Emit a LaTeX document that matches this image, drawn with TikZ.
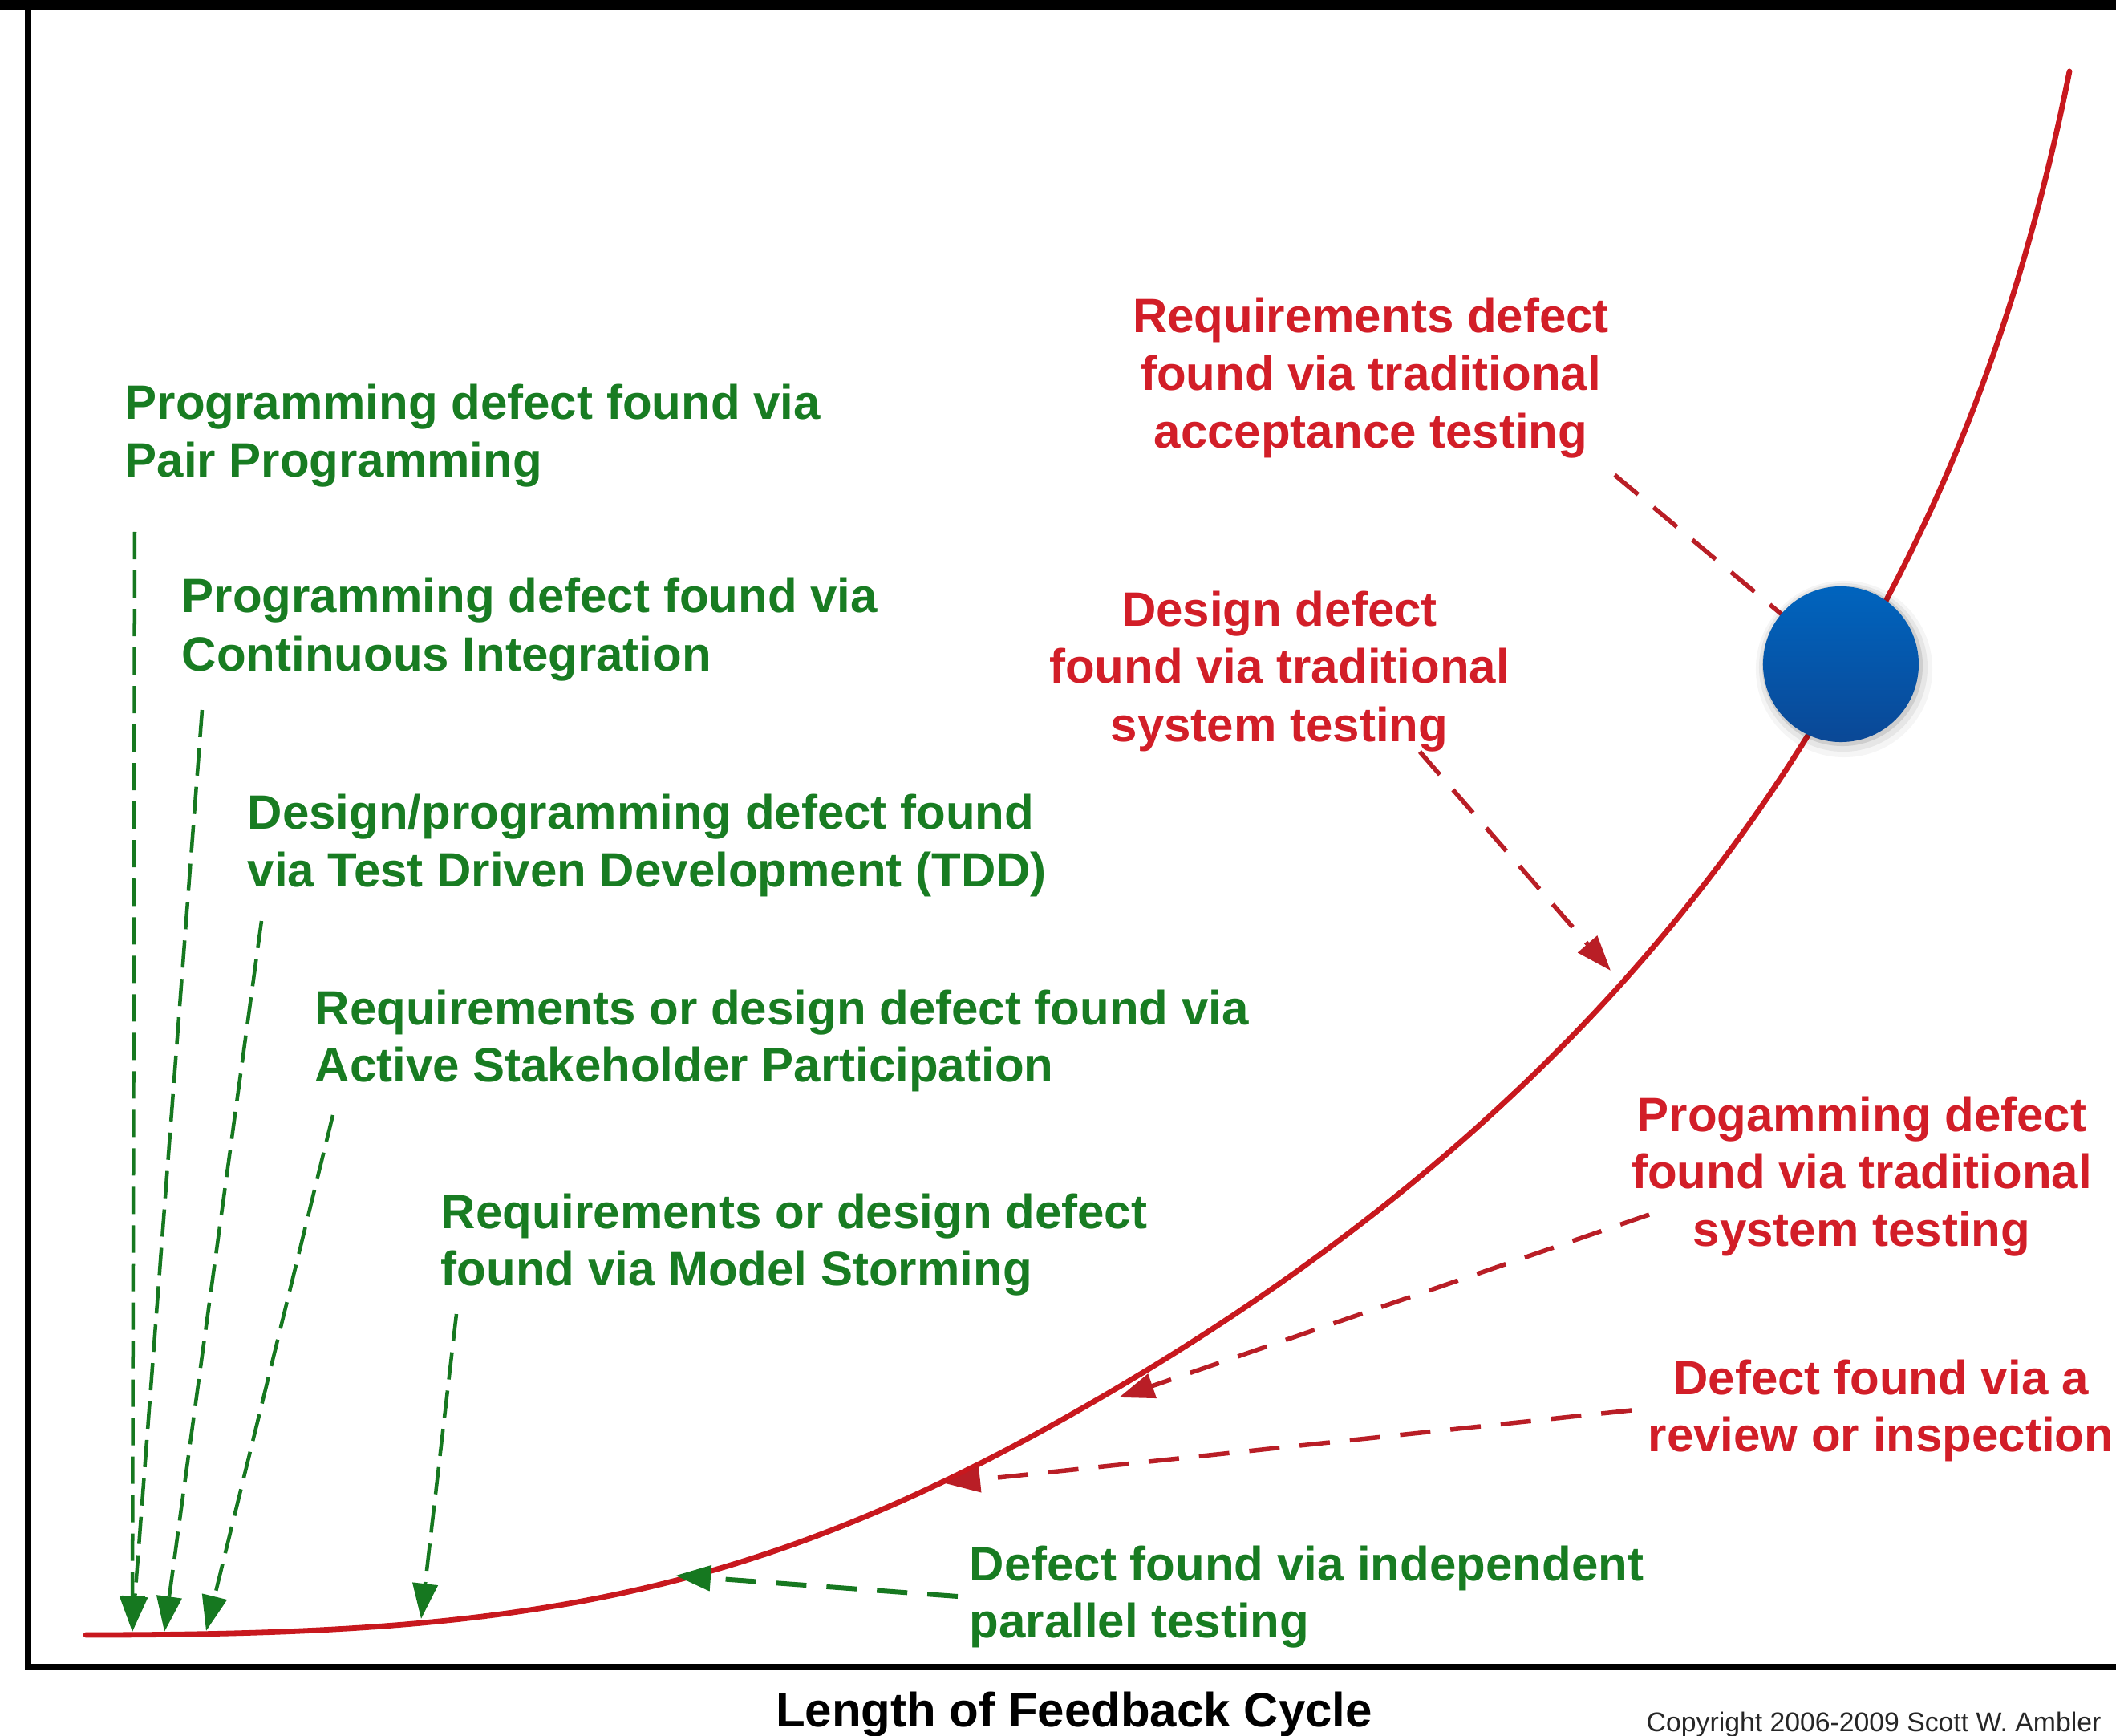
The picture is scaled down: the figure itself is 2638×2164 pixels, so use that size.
\documentclass[tikz,border=0pt]{standalone}
\usepackage{fontspec}
\setmainfont{Liberation Sans}
\usetikzlibrary{arrows.meta}
\definecolor{gtxt}{RGB}{24,124,34}
\definecolor{garr}{RGB}{22,120,32}
\definecolor{rtxt}{RGB}{210,30,40}
\definecolor{rarr}{RGB}{185,30,38}
\definecolor{rcurve}{RGB}{200,24,30}
\definecolor{blueT}{RGB}{0,100,190}
\definecolor{blueB}{RGB}{10,72,150}
\tikzset{
  lbl/.style={font=\fontsize{17.07pt}{20.5pt}\selectfont\bfseries, inner sep=0pt},
  gtext/.style={lbl, text=gtxt, anchor=base west},
  rtext/.style={lbl, text=rtxt, anchor=base},
  tip/.style={-{Triangle[length=0.44cm,width=0.31cm]}},
  gthin/.style={tip, draw=garr, line width=0.045cm, dash pattern=on 0.34cm off 0.14cm},
  gthick/.style={tip, draw=garr, line width=0.06cm, dash pattern=on 0.38cm off 0.25cm},
  rthick/.style={tip, draw=rarr, line width=0.055cm, dash pattern=on 0.38cm off 0.25cm},
  curveline/.style={draw=rcurve, line width=0.068cm, line cap=round, line join=round},
  frame/.style={draw=black, line width=0.085cm}
}
\begin{document}
\begin{tikzpicture}[x=0.01cm, y=-0.01cm]
\clip (0,0) rectangle (2638,2164);
\fill[white] (0,0) rectangle (2638,2164);
% frame
\fill[black] (0,0) rectangle (2638,13);
\draw[frame] (35,13) -- (35,2078) -- (2650,2078);
% curve
\draw[curveline] (107,2038) .. controls (607,2038) and (900,2003) .. (1300,1783)
  .. controls (1650,1590.5) and (2000,1323) .. (2250,923)
  .. controls (2370,731) and (2500,489) .. (2580,89);
% coordinates
\coordinate (sA1) at (168,663);
\coordinate (sA2) at (252,885);
\coordinate (sA3) at (326,1148);
\coordinate (sA4) at (415,1390);
\coordinate (sA5) at (569,1638);
\coordinate (sA6) at (1194,1990);
\coordinate (tA1) at (165,2034);
\coordinate (tA3) at (205,2034);
\coordinate (tA4) at (257,2033);
\coordinate (tA5) at (525,2018);
\coordinate (tA6) at (842,1964);
\coordinate (sR1) at (2013,592);
\coordinate (tR1) at (2262,800);
\coordinate (sR2) at (1770,937);
\coordinate (tR2) at (2008,1210);
\coordinate (sR3) at (2056,1514);
\coordinate (tR3) at (1395,1742);
\coordinate (sR4) at (2034,1758);
\coordinate (tR4) at (1178,1849);
\coordinate (dotc) at (2295,828);
% green arrows
\draw[gthin] (sA1) -- (tA1);
\draw[gthin] (sA2) -- (tA1);
\draw[gthin] (sA3) -- (tA3);
\draw[gthin] (sA4) -- (tA4);
\draw[gthin] (sA5) -- (tA5);
\draw[gthick] (sA6) -- (tA6);
% red arrows
\draw[rthick] (sR1) -- (tR1);
\draw[rthick] (sR2) -- (tR2);
\draw[rthick] (sR3) -- (tR3);
\draw[rthick] (sR4) -- (tR4);
% blue dot with soft shadow
\fill[black, opacity=0.04] ([shift={(4,6)}]dotc) circle (1.10cm);
\fill[black, opacity=0.06] ([shift={(3,4)}]dotc) circle (1.05cm);
\fill[black, opacity=0.10] ([shift={(2,2)}]dotc) circle (1.00cm);
\node[circle, inner sep=0pt, minimum size=1.94cm, top color=blueT, bottom color=blueB, draw=none] (dot) at (dotc) {};
% green texts
\node[gtext] (pp1) at (155,523) {Programming defect found via};
\node[gtext] (pp2) at (155,595) {Pair Programming};
\node[gtext] (ci1) at (226,764) {Programming defect found via};
\node[gtext] (ci2) at (226,837) {Continuous Integration};
\node[gtext] (td1) at (308,1034) {Design/programming defect found};
\node[gtext] (td2) at (308,1105) {via Test Driven Development (TDD)};
\node[gtext] (as1) at (392,1277) {Requirements or design defect found via};
\node[gtext] (as2) at (392,1348) {Active Stakeholder Participation};
\node[gtext] (ms1) at (549,1531) {Requirements or design defect};
\node[gtext] (ms2) at (549,1602) {found via Model Storming};
\node[gtext] (ip1) at (1208,1970) {Defect found via independent};
\node[gtext] (ip2) at (1208,2041) {parallel testing};
% red texts
\node[rtext] (ra1) at (1709,415) {Requirements defect};
\node[rtext] (ra2) at (1709,487) {found via traditional};
\node[rtext] (ra3) at (1709,559) {acceptance testing};
\node[rtext] (rd1) at (1595,781) {Design defect};
\node[rtext] (rd2) at (1595,852) {found via traditional};
\node[rtext] (rd3) at (1595,924) {system testing};
\node[rtext] (rp1) at (2321,1410) {Progamming defect};
\node[rtext] (rp2) at (2321,1481) {found via traditional};
\node[rtext] (rp3) at (2321,1553) {system testing};
\node[rtext] (rr1) at (2345,1738) {Defect found via a};
\node[rtext] (rr2) at (2345,1809) {review or inspection};
% axis label and copyright
\node[lbl, text=black, anchor=base] (xlab) at (1339,2152) {Length of Feedback Cycle};
\node[font=\fontsize{9.6pt}{12pt}\selectfont, inner sep=0pt, text=black!85, anchor=base west] (copy) at (2052,2158) {Copyright 2006-2009 Scott W. Ambler};
\end{tikzpicture}
\end{document}
